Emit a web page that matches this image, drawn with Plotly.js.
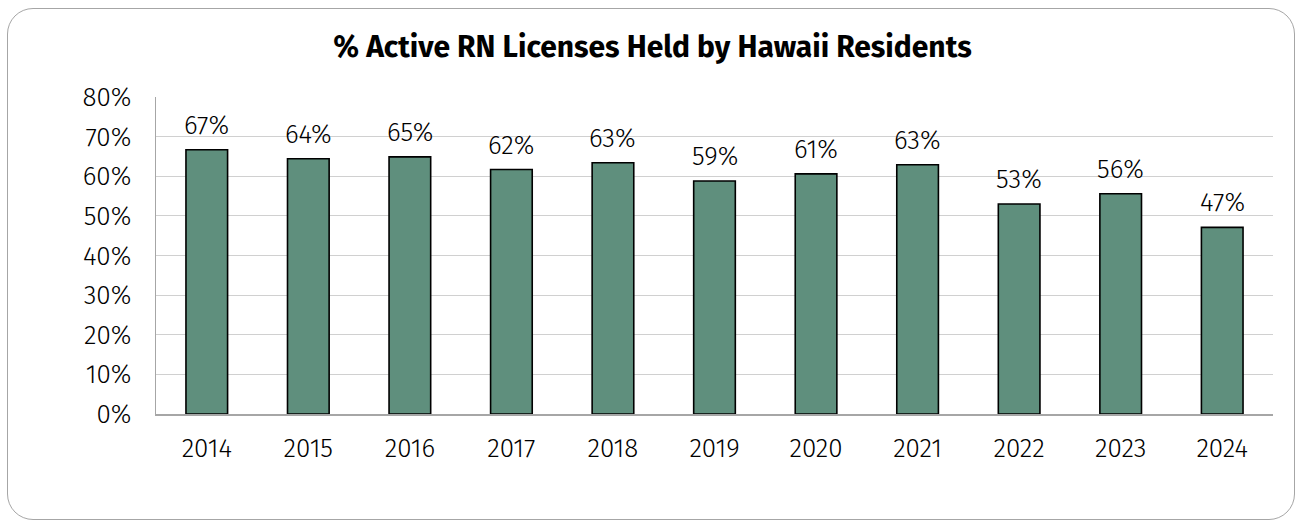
<!DOCTYPE html>
<html>
<head>
<meta charset="utf-8">
<script src="https://cdn.plot.ly/plotly-3.0.1.min.js"></script>
<style>
html,body{margin:0;padding:0;background:#fff;}
#frame{position:absolute;left:7px;top:8px;width:1288px;height:512px;border:1.5px solid #a6a6a6;border-radius:26px;box-sizing:border-box;}
#chart{position:absolute;left:0;top:0;width:1305px;height:531px;}
</style>
</head>
<body>
<div id="frame"></div>
<div id="chart"></div>
<script>
const years = ['2014','2015','2016','2017','2018','2019','2020','2021','2022','2023','2024'];
const shareResident = [0.667, 0.644, 0.649, 0.617, 0.634, 0.588, 0.606, 0.629, 0.530, 0.556, 0.471];
const yTickVals = [0,0.1,0.2,0.3,0.4,0.5,0.6,0.7,0.8];
const yTickText = ['0%','10%','20%','30%','40%','50%','60%','70%','80%'];

const font = "'Fira Sans','Noto Sans','Open Sans',sans-serif";

const labels = years.map((yr, i) => ({
  x: i, y: shareResident[i], xref: 'x', yref: 'y',
  text: Math.round(shareResident[i] * 100) + '%',
  showarrow: false, yanchor: 'bottom', yshift: 7,
  font: {family: font, size: 26, color: '#000', weight: 300}
}));

Plotly.newPlot('chart', [{
  type: 'bar',
  x: years,
  y: shareResident,
  marker: {color: '#5f8f7d', line: {color: '#000', width: 1.6}},
  hoverinfo: 'skip'
}], {
  width: 1305, height: 531,
  paper_bgcolor: 'rgba(0,0,0,0)',
  plot_bgcolor: 'rgba(0,0,0,0)',
  margin: {l: 156, r: 32, t: 97, b: 117},
  bargap: 0.59,
  showlegend: false,
  annotations: labels,
  title: {text: '<b>% Active RN Licenses Held by Hawaii Residents</b>', x: 0.5, xanchor: 'center', y: 0.912, yanchor: 'middle',
          font: {family: font, size: 30, color: '#000'}},
  xaxis: {type: 'category', range: [-0.5, years.length - 0.5], showgrid: false, showline: true, linecolor: '#a6a6a6', linewidth: 1.5,
          ticks: '', ticklabelstandoff: 10, tickfont: {family: font, size: 26, color: '#000', weight: 300}},
  yaxis: {range: [0, 0.8], tickvals: yTickVals, ticktext: yTickText, showgrid: true, gridcolor: '#d0d0d0', gridwidth: 1.2,
          showline: true, linecolor: '#a6a6a6', linewidth: 1.5, zeroline: false, ticks: '', ticklabelstandoff: 18,
          tickfont: {family: font, size: 26, color: '#000', weight: 300}}
}, {displayModeBar: false, staticPlot: true});
</script>
</body>
</html>
